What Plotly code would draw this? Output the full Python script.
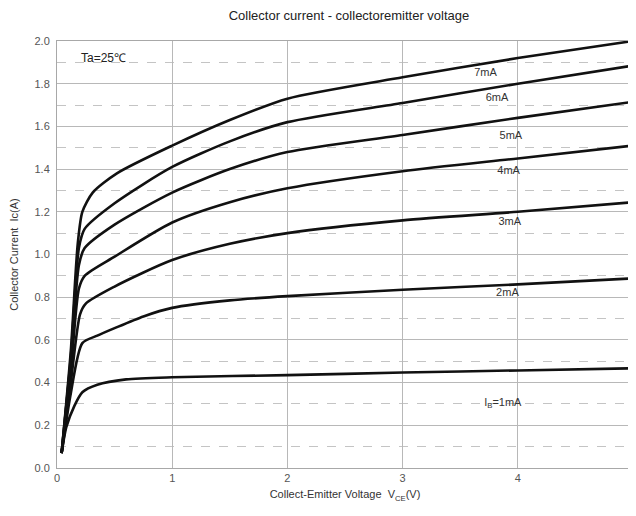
import plotly.graph_objects as go

# Data (V_CE in volts, Ic in amperes)
v_1mA = [0.04, 0.08, 0.15, 0.22, 0.35, 0.6, 1.0, 2.0, 3.0, 4.0, 5.0]
i_1mA = [0.07, 0.19, 0.29, 0.355, 0.39, 0.415, 0.425, 0.435, 0.447, 0.457, 0.467]

v_2mA = [0.04, 0.12, 0.22, 0.35, 0.5, 0.75, 1.0, 1.5, 2.0, 3.0, 4.0, 5.0]
i_2mA = [0.07, 0.35, 0.585, 0.62, 0.655, 0.71, 0.75, 0.785, 0.805, 0.835, 0.86, 0.888]

v_3mA = [0.04, 0.12, 0.2, 0.25, 0.5, 1.0, 1.5, 2.0, 3.0, 4.0, 5.0]
i_3mA = [0.07, 0.40, 0.72, 0.77, 0.85, 0.974, 1.05, 1.10, 1.16, 1.20, 1.245]

v_4mA = [0.04, 0.12, 0.19, 0.24, 0.5, 1.0, 1.5, 2.0, 3.0, 4.0, 5.0]
i_4mA = [0.07, 0.45, 0.84, 0.90, 0.99, 1.15, 1.245, 1.31, 1.39, 1.45, 1.51]

v_5mA = [0.04, 0.12, 0.19, 0.24, 0.5, 1.0, 1.5, 2.0, 3.0, 4.0, 5.0]
i_5mA = [0.07, 0.50, 0.95, 1.03, 1.14, 1.29, 1.40, 1.48, 1.56, 1.64, 1.715]

v_6mA = [0.04, 0.12, 0.19, 0.24, 0.5, 1.0, 1.5, 2.0, 3.0, 4.0, 5.0]
i_6mA = [0.07, 0.52, 1.03, 1.12, 1.24, 1.41, 1.53, 1.62, 1.71, 1.80, 1.885]

v_7mA = [0.04, 0.12, 0.18, 0.22, 0.31, 0.52, 1.0, 1.5, 2.0, 3.0, 4.0, 5.0]
i_7mA = [0.07, 0.55, 1.05, 1.20, 1.29, 1.38, 1.51, 1.63, 1.73, 1.83, 1.92, 2.0]

series = [
    (v_1mA, i_1mA), (v_2mA, i_2mA), (v_3mA, i_3mA), (v_4mA, i_4mA),
    (v_5mA, i_5mA), (v_6mA, i_6mA), (v_7mA, i_7mA),
]

label_texts = ["I<sub>B</sub>=1mA", "2mA", "3mA", "4mA", "5mA", "6mA", "7mA"]
label_v = [3.87, 3.91, 3.93, 3.92, 3.94, 3.82, 3.72]
label_i = [0.305, 0.82, 1.15, 1.39, 1.555, 1.73, 1.85]

x_ticks = [0, 1, 2, 3, 4, 5]
y_ticks = [0.0, 0.2, 0.4, 0.6, 0.8, 1.0, 1.2, 1.4, 1.6, 1.8, 2.0]

fig = go.Figure()
for v, i in series:
    fig.add_trace(go.Scatter(
        x=v, y=i, mode="lines",
        line=dict(color="#111111", width=2.6, shape="spline", smoothing=0.7),
        showlegend=False, hoverinfo="skip",
    ))

fig.add_trace(go.Scatter(
    x=label_v, y=label_i, mode="text", text=label_texts,
    textfont=dict(family="Liberation Sans", size=11, color="#333333"),
    showlegend=False, hoverinfo="skip",
))

fig.add_annotation(
    x=0.19, y=1.92, xref="x", yref="y", text="Ta=25\u2103", showarrow=False,
    xanchor="left", font=dict(family="Liberation Sans", size=12, color="#222222"),
)

grid_col = "#b8b8b8"
fig.update_layout(
    width=628, height=500,
    margin=dict(l=49, r=3, t=33, b=40),
    paper_bgcolor="white", plot_bgcolor="white",
    title=dict(
        text="Collector current - collectoremitter voltage",
        x=0.543, xanchor="center", y=0.986, yanchor="middle",
        font=dict(family="Liberation Sans", size=13, color="#222222"),
    ),
    xaxis=dict(
        range=[0, 5], tickvals=x_ticks, ticktext=[str(t) for t in x_ticks],
        showgrid=True, gridcolor=grid_col, gridwidth=1,
        showline=True, linecolor="#a8a8a8", linewidth=1, mirror=True,
        zeroline=False, ticks="", automargin=False, ticklabeloverflow="allow",
        tickfont=dict(family="Liberation Sans", size=11, color="#555555"),
        title=dict(
            text="Collect-Emitter Voltage  V<sub>CE</sub>(V)",
            font=dict(family="Liberation Sans", size=11, color="#333333"),
            standoff=7,
        ),
    ),
    yaxis=dict(
        range=[0, 2], tickvals=y_ticks, ticktext=[f"{t:.1f}" for t in y_ticks],
        showgrid=True, gridcolor=grid_col, gridwidth=1,
        showline=True, linecolor="#a8a8a8", linewidth=1, mirror=True,
        zeroline=False, ticks="", automargin=False, ticklabelstandoff=4,
        tickfont=dict(family="Liberation Sans", size=11, color="#555555"),
        minor=dict(tick0=0.1, dtick=0.2, showgrid=True, gridcolor="#c4c4c4",
                   griddash="dash", gridwidth=1),
        title=dict(
            text="Collector Current  Ic(A)",
            font=dict(family="Liberation Sans", size=11, color="#333333"),
            standoff=17,
        ),
    ),
)

fig.write_html("out.html")
